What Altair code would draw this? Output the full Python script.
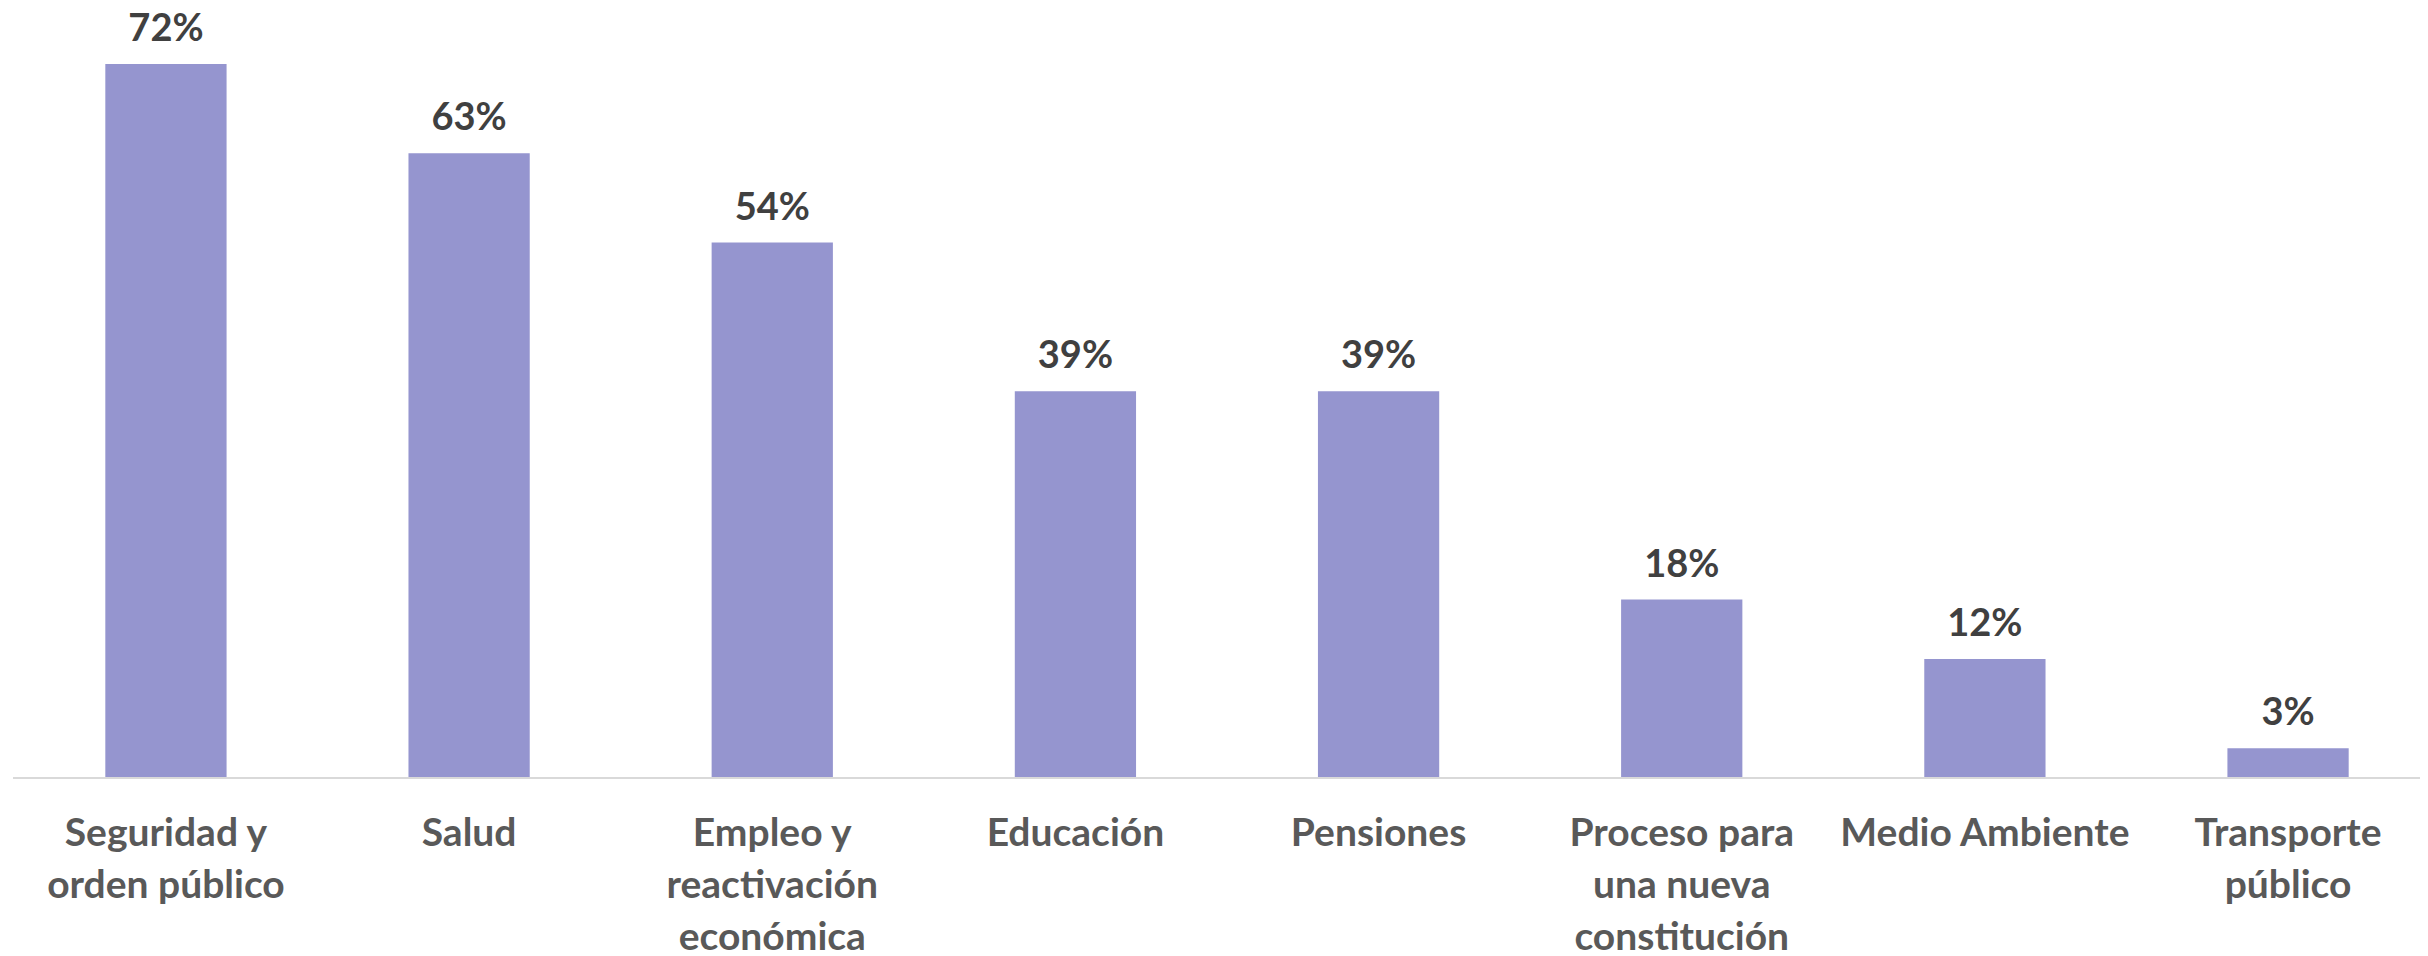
import altair as alt
import pandas as pd

categories = [
    "Seguridad y|orden público",
    "Salud",
    "Empleo y|reactivación|económica",
    "Educación",
    "Pensiones",
    "Proceso para|una nueva|constitución",
    "Medio Ambiente",
    "Transporte|público",
]
values = [0.72, 0.63, 0.54, 0.39, 0.39, 0.18, 0.12, 0.03]
labels = ["72%", "63%", "54%", "39%", "39%", "18%", "12%", "3%"]

df = pd.DataFrame({"cat": categories, "val": values, "lab": labels})

W = 2304
H = 714

x = alt.X(
    "cat:N",
    sort=categories,
    scale=alt.Scale(paddingInner=0.6, paddingOuter=0.1),
    axis=alt.Axis(
        title=None,
        domain=False,
        ticks=False,
        labelAngle=0,
        labelColor="#595959",
        labelFont="Lato",
        labelFontWeight="bold",
        labelFontSize=39,
        labelLineHeight=52,
        labelPadding=36,
        labelLimit=1000,
        labelExpr="split(datum.label, '|')",
        labelBaseline="top",
    ),
)
y = alt.Y("val:Q", scale=alt.Scale(domain=[0, 0.72], nice=False, zero=True), axis=None)

bars = alt.Chart(df).mark_bar(color="#9595CF").encode(x=x, y=y)
text = alt.Chart(df).mark_text(
    font="Lato", fontWeight="bold", fontSize=38, color="#404040",
    baseline="alphabetic", dy=-23
).encode(x=x, y=y, text="lab:N")
rule = alt.Chart(df).mark_rule(color="#D9D9D9", strokeWidth=2).encode(
    x=alt.value(-62), x2=alt.value(2345), y=alt.value(H)
)

chart = alt.layer(bars, rule, text).properties(
    width=W, height=H,
    background="white",
    autosize=alt.AutoSizeParams(type="none"),
    padding={"left": 67, "top": 56, "right": 41, "bottom": 178},
).configure_view(strokeWidth=0, stroke="transparent")

chart.save("out.html", embed_options={"renderer": "svg", "actions": False})
